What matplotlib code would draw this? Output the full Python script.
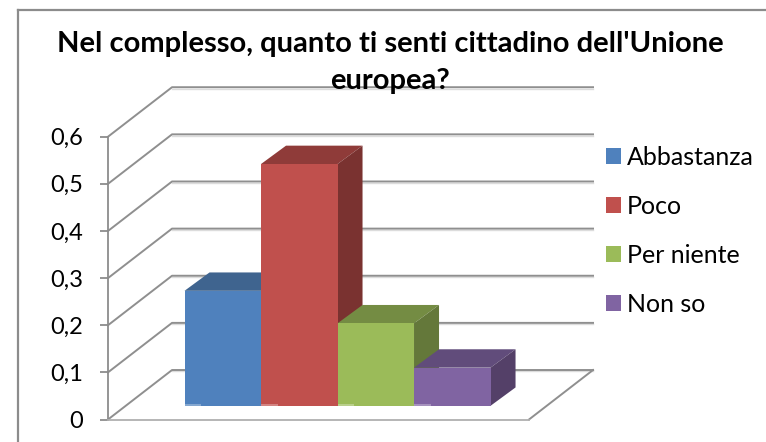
import matplotlib
matplotlib.use('Agg')
import matplotlib.pyplot as plt
from matplotlib.lines import Line2D
from matplotlib.patches import Patch, Polygon

plt.rcParams['font.family'] = ['Lato', 'DejaVu Sans']

title = "Nel complesso, quanto ti senti cittadino dell'Unione\neuropea?"
categories = ['Abbastanza', 'Poco', 'Per niente', 'Non so']
values = [0.244, 0.513, 0.175, 0.081]
colors = ['#4f81bd', '#c0504d', '#9bbb59', '#8064a2']
top_colors = ['#3f648f', '#8f3b39', '#748c43', '#614c7b']
side_colors = ['#35547a', '#7a3230', '#64783a', '#544068']
ticks = [0, 0.1, 0.2, 0.3, 0.4, 0.5, 0.6]
tick_labels = ['0', '0,1', '0,2', '0,3', '0,4', '0,5', '0,6']

W, H = 766, 442
fig = plt.figure(figsize=(W / 100, H / 100), dpi=100)

# chart frame, runs off the right and bottom of the image
fig.add_artist(Line2D([18 / W, 18 / W], [0, 1 - 10 / H], color='#8c8c8c', lw=1.6))
fig.add_artist(Line2D([18 / W, 1], [1 - 10 / H, 1 - 10 / H], color='#8c8c8c', lw=1.6))

ax = fig.add_axes([108 / W, (H - 419.5) / H, 421 / W, 282.8 / H])
ax.set_xlim(0, 5.503)
ax.set_ylim(0, 0.6)
ax.patch.set_visible(False)
for s in ['top', 'right']:
    ax.spines[s].set_visible(False)
ax.spines['left'].set_color('#8c8c8c')
ax.spines['left'].set_linewidth(1.3)
ax.spines['bottom'].set_color('#b0b0b0')
ax.spines['bottom'].set_linewidth(1.3)
ax.set_xticks([])
ax.set_yticks(ticks)
ax.set_yticklabels(tick_labels, fontsize=17, color='black')
ax.tick_params(axis='y', length=6, width=1.3, color='#8c8c8c', pad=12)

# depth of the floor and of the bars, in data units
wall_dx, wall_dy = 0.837, 0.105
bar_dx, bar_dy = 0.327, 0.039
floor = 0.029
first_x = 1.0

for t in ticks:
    ax.plot([0, wall_dx, 5.503 + wall_dx], [t, t + wall_dy, t + wall_dy], color='#8f8f8f', lw=1.4,
            clip_on=False, zorder=1)
    ax.plot([wall_dx, 5.503 + wall_dx], [t + wall_dy - 0.003, t + wall_dy - 0.003], color='#dcdcdc',
            lw=1.0, clip_on=False, zorder=0.9)
ax.plot([5.503, 5.503 + wall_dx], [0, wall_dy], color='#8f8f8f', lw=1.4, clip_on=False, zorder=1)

for i, v in enumerate(values):
    x0 = first_x + i
    x1 = x0 + 1
    y1 = floor + v
    z = 2 + i
    ax.add_patch(Polygon([(x0, y1), (x1, y1), (x1 + bar_dx, y1 + bar_dy), (x0 + bar_dx, y1 + bar_dy)],
                         fc=top_colors[i], ec='none', clip_on=False, zorder=z))
    ax.add_patch(Polygon([(x1, floor), (x1 + bar_dx, floor + bar_dy), (x1 + bar_dx, y1 + bar_dy), (x1, y1)],
                         fc=side_colors[i], ec='none', clip_on=False, zorder=z))
    ax.bar(x0, v, width=1, bottom=floor, align='edge', color=colors[i], clip_on=False, zorder=z + 0.5)
    # pale sliver at the foot of each bar
    ax.bar(x0, 0.004, width=0.22, bottom=floor, align='edge', color='white', alpha=0.3, zorder=z + 0.6)

fig.text(390 / W, 1 - 62.5 / H, title, ha='center', va='center', fontsize=21, fontweight='bold',
         color='black', linespacing=1.57, zorder=5)

handles = [Patch(fc=c, ec='none') for c in colors]
fig.legend(handles, categories, loc='upper left', bbox_to_anchor=(606 / W, 1 - 146 / H), frameon=False,
           fontsize=18, handlelength=0.6, handleheight=0.6, handletextpad=0.24, labelspacing=1.04,
           borderaxespad=0, borderpad=0)

fig.savefig('out.png', dpi=100)
